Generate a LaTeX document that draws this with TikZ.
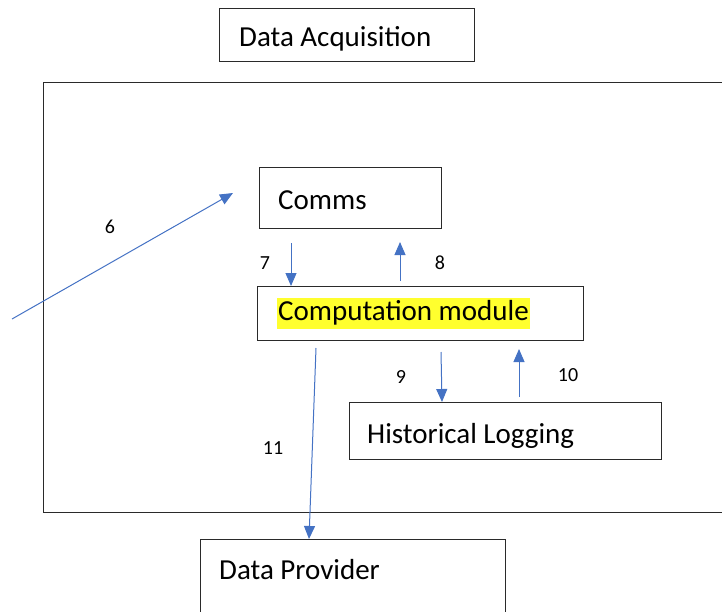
\documentclass[tikz,border=0pt]{standalone}
\usepackage{fontspec}
\setmainfont{Carlito}
\usetikzlibrary{arrows.meta}
\definecolor{arrblue}{HTML}{4472C4}
\definecolor{hl}{HTML}{FFFF2E}
\definecolor{boxline}{HTML}{2A2A2A}
\begin{document}
\begin{tikzpicture}[x=1pt,y=-1pt,
  box/.style={draw=boxline, line width=0.9pt, rectangle, inner sep=0pt},
  lbl/.style={anchor=west, inner sep=0pt, font=\fontsize{29}{33}\selectfont},
  num/.style={inner sep=0pt, font=\fontsize{20}{23}\selectfont},
  flow/.style={draw=arrblue, line width=1pt, -{Triangle[length=13pt,width=11pt]}}]
\useasboundingbox (0,0) rectangle (722,611);
\clip (0,0) rectangle (722,611);
% outer frame (open on the right)
\draw[boxline, line width=0.9pt] (722,82) -- (43,82) -- (43,512) -- (722,512);
% boxes
\node[box, minimum width=255pt, minimum height=53pt] (acq) at (346.5,34.5) {};
\node[lbl] (acqT) at (239,39) {Data Acquisition};
\node[box, minimum width=182pt, minimum height=61pt] (comms) at (350,197.5) {};
\node[lbl] (commsT) at (278,200) {Comms};
\node[box, minimum width=326pt, minimum height=54pt] (comp) at (420,313) {};
\node[lbl, fill=hl, inner xsep=1pt, minimum height=31pt] (compT) at (277,313) {Computation module};
\node[box, minimum width=312pt, minimum height=57pt] (hist) at (505,430.5) {};
\node[lbl] (histT) at (367,436) {Historical Logging};
\node[box, minimum width=305pt, minimum height=100pt] (prov) at (352.5,589) {};
\node[lbl] (provT) at (219,570) {Data Provider};
% connector end points
\coordinate (a6s) at (12,319);
\coordinate (a6e) at (233,193);
\coordinate (a7s) at (291,243);
\coordinate (a7e) at (291,286);
\coordinate (a8s) at (400,281);
\coordinate (a8e) at (400,242);
\coordinate (a9s) at (441,352);
\coordinate (a9e) at (442,402);
\coordinate (a10s) at (519,397);
\coordinate (a10e) at (519,349);
\coordinate (a11s) at (316,348);
\coordinate (a11e) at (309,539);
% connectors
\draw[flow] (a6s) -- (a6e);
\draw[flow] (a7s) -- (a7e);
\draw[flow] (a8s) -- (a8e);
\draw[flow] (a9s) -- (a9e);
\draw[flow] (a10s) -- (a10e);
\draw[flow] (a11s) -- (a11e);
% labels
\node[num] (n6) at (110,227) {6};
\node[num] (n7) at (265,263) {7};
\node[num] (n8) at (440,263) {8};
\node[num] (n9) at (401,377) {9};
\node[num] (n10) at (568,375) {10};
\node[num] (n11) at (273,448) {11};
\end{tikzpicture}
\end{document}
